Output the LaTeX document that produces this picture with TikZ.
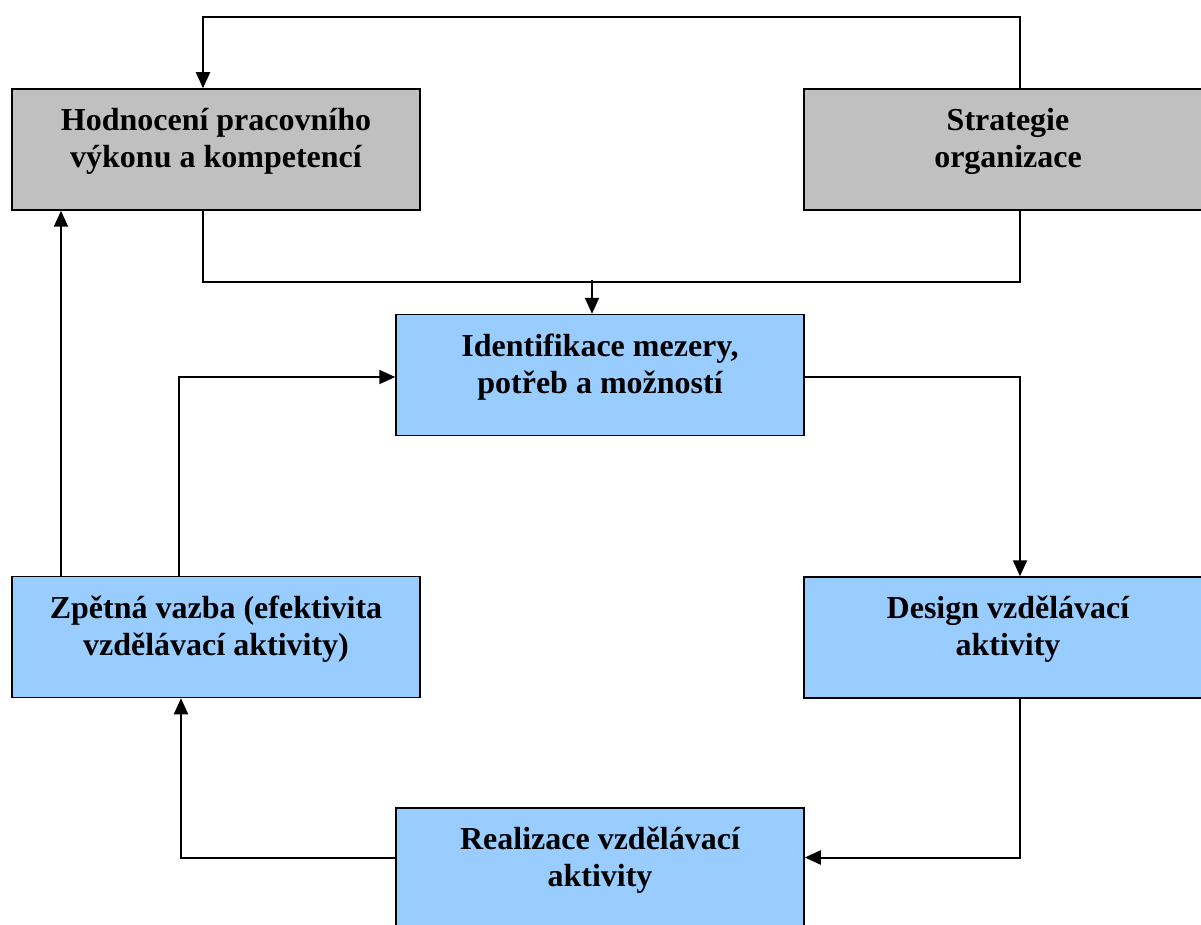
\documentclass[tikz,border=0pt]{standalone}
\usepackage{fontspec}
\setmainfont{Liberation Serif}
\usepackage{tikz}
\usetikzlibrary{arrows.meta}
\usetikzlibrary{calc}

\definecolor{boxgrey}{HTML}{C0C0C0}
\definecolor{boxblue}{HTML}{99CCFF}

\tikzset{
  box/.style={draw, line width=1.5pt, minimum width=408pt, minimum height=121pt, inner sep=0pt},
  greybox/.style={box, fill=boxgrey},
  bluebox/.style={box, fill=boxblue},
  boxtext/.style={font=\bfseries\fontsize{32}{37}\selectfont, align=center},
  link/.style={line width=2pt},
  arr/.style={link, -{Triangle[width=14pt,length=16pt]}}
}

\begin{document}
\begin{tikzpicture}[x=1pt,y=-1pt]
\useasboundingbox (0,0) rectangle (1201,925);

\node[greybox] (hod) at (216,149.5) {};
\node[greybox] (strat) at (1008,149.5) {};
\node[bluebox] (ident) at (600,375) {};
\node[bluebox] (zpet) at (216,637) {};
\node[bluebox] (design) at (1008,637.5) {};
\node[bluebox] (real) at (600,868.5) {};

\node[boxtext] (hodtext) at ([yshift=8pt]hod.center) {Hodnocení pracovního\\výkonu a kompetencí};
\node[boxtext] (strattext) at ([yshift=8pt]strat.center) {Strategie\\organizace};
\node[boxtext] (identtext) at ([yshift=8pt]ident.center) {Identifikace mezery,\\potřeb a možností};
\node[boxtext] (zpettext) at ([yshift=8pt]zpet.center) {Zpětná vazba (efektivita\\vzdělávací aktivity)};
\node[boxtext] (designtext) at ([yshift=8pt]design.center) {Design vzdělávací\\aktivity};
\node[boxtext] (realtext) at ([yshift=8pt]real.center) {Realizace vzdělávací\\aktivity};

% strategie -> hodnoceni (over the top)
\draw[arr] ([xshift=12pt]strat.north) -- ++(0,-71) -| ([xshift=-13pt]hod.north);
% both top boxes feed the identification
\draw[link] ([xshift=-13pt]hod.south) -- ++(0,71) -| ([xshift=12pt]strat.south);
\draw[arr] ([xshift=-8pt,yshift=34pt]ident.north) -- ([xshift=-8pt]ident.north);

% the cycle
\draw[arr] ([yshift=-2pt]ident.east) -| ([xshift=12pt]design.north);
\draw[arr] ([xshift=12pt]design.south) |- ([yshift=11pt]real.east);
\draw[arr] ([yshift=11pt]real.west) -| ([xshift=-35pt]zpet.south);
\draw[arr] ([xshift=-37pt]zpet.north) |- ([yshift=-2pt]ident.west);
\draw[arr] ([xshift=-155pt]zpet.north) -- ([xshift=-155pt]hod.south);

\end{tikzpicture}
\end{document}
